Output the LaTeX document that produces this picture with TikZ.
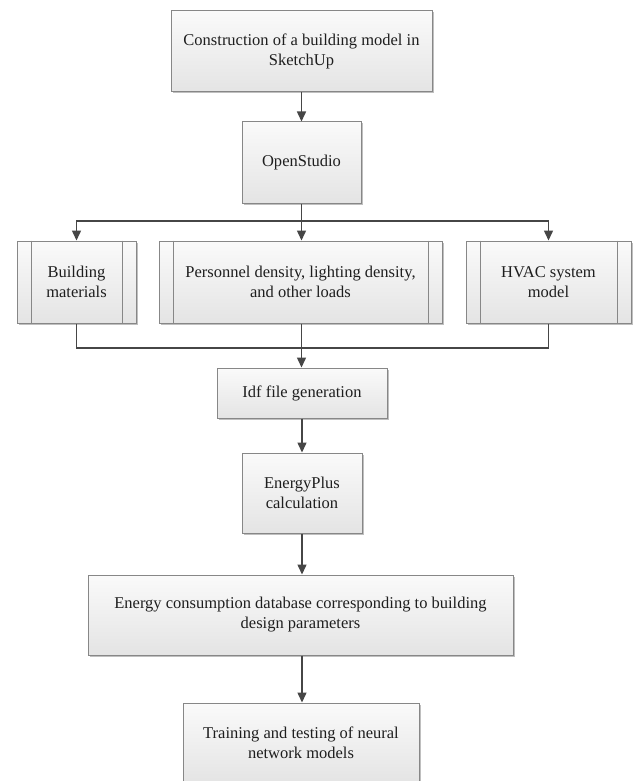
\documentclass[tikz,border=0pt]{standalone}
\usepackage{fontspec}
\setmainfont{Liberation Serif}
\usetikzlibrary{arrows.meta,shadows}
\definecolor{boxborder}{RGB}{135,135,135}
\definecolor{linecol}{RGB}{70,70,70}
\definecolor{txtcol}{RGB}{30,30,30}
\definecolor{fillbot}{RGB}{228,228,228}
\definecolor{filltop}{RGB}{250,250,250}
\begin{document}
\begin{tikzpicture}[x=1pt,y=-1pt,
  box/.style={draw=boxborder, line width=1pt, top color=filltop, bottom color=fillbot,
    drop shadow={shadow xshift=1.5pt, shadow yshift=-1.5pt, fill=black, opacity=0.25},
    align=center, text=txtcol, inner sep=0pt,
    font=\fontsize{16.5}{20}\selectfont},
  conn/.style={draw=linecol, line width=1.5pt},
  arr/.style={conn, -{Triangle[length=10pt,width=9pt]}},
  inner/.style={draw=boxborder, line width=1pt}
]
\useasboundingbox (0,0) rectangle (634,781);
\fill[white] (0,0) rectangle (634,781);

\node[box, minimum width=261pt, minimum height=81pt] (b1) at (301.5,51.5)
  {Construction of a building model in\\SketchUp};
\node[box, minimum width=119pt, minimum height=81pt] (b2) at (301.5,162.5) {OpenStudio};
\node[box, minimum width=119pt, minimum height=82pt] (b3) at (76.5,282) {Building\\materials};
\node[box, minimum width=283pt, minimum height=82pt] (b4) at (300.5,282)
  {Personnel density, lighting density,\\and other loads};
\node[box, minimum width=165pt, minimum height=82pt] (b5) at (548.5,282) {HVAC system\\model};
\node[box, minimum width=170pt, minimum height=50pt] (b6) at (302,393) {Idf file generation};
\node[box, minimum width=120pt, minimum height=80pt] (b7) at (302,493) {EnergyPlus\\calculation};
\node[box, minimum width=425pt, minimum height=80pt] (b8) at (300.5,615)
  {Energy consumption database corresponding to building\\design parameters};
\node[box, minimum width=236pt, minimum height=80pt] (b9) at (301,743)
  {Training and testing of neural\\network models};

% inner lines of the predefined-process boxes
\foreach \b in {b3,b4,b5}{
  \draw[inner] ([xshift=14.5pt]\b.north west) -- ([xshift=14.5pt]\b.south west);
  \draw[inner] ([xshift=-14.5pt]\b.north east) -- ([xshift=-14.5pt]\b.south east);
}

\coordinate (fork) at (301.5,221);
\coordinate (join) at (301.5,348);

\draw[arr] (b1) -- (b2);
\draw[conn] (b2.south) -- (fork);
\draw[arr] (fork) -| (b3.north);
\draw[arr] (fork) -| (b5.north);
\draw[arr] (fork) -- (fork |- b4.north);

\draw[conn] (b3.south) |- (join);
\draw[conn] (b5.south) |- (join);
\draw[arr] (b4.south -| join) -- (b6.north -| join);

\draw[arr] (b6) -- (b7);
\draw[arr] (b7) -- (b8.north -| b7);
\draw[arr] (b8.south -| b7) -- (b9.north -| b7);
\end{tikzpicture}
\end{document}
